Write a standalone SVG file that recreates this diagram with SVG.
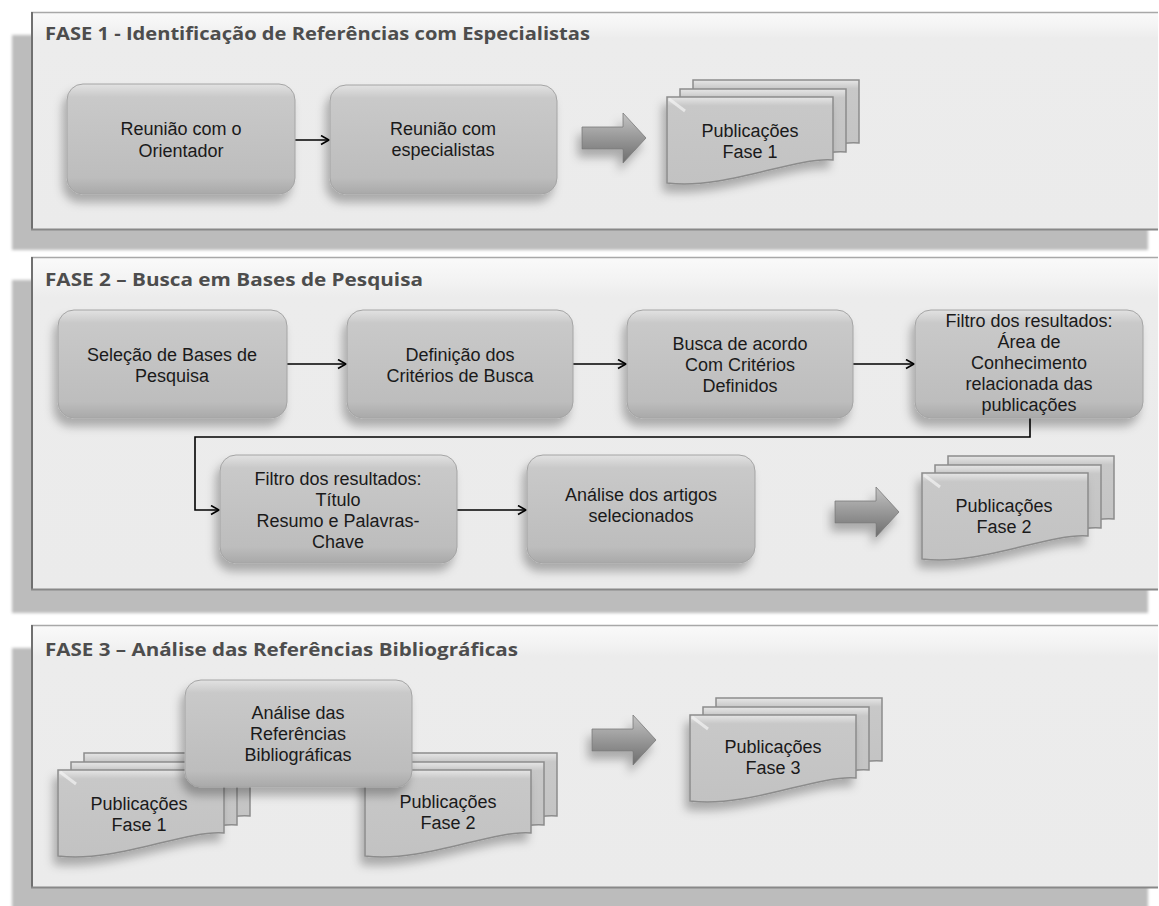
<svg xmlns="http://www.w3.org/2000/svg" width="1159" height="906" viewBox="0 0 1159 906">
  <defs>
    <style>
      .hdr { font-family: "Open Sans", "Liberation Sans", sans-serif; font-weight: bold; font-size: 18.5px; fill: #4d4d4d; }
      .lbl { font-family: "Liberation Sans", Arial, sans-serif; font-size: 18px; fill: #1a1a1a; text-anchor: middle; }
      .slab { fill: #bcbcbc; }
      .panel { fill: url(#panelFill); }
      .box { fill: url(#boxFill); stroke: #a4a4a4; stroke-width: 1; filter: url(#shadow); }
      .doc { fill: url(#docFill); stroke: #8c8c8c; stroke-width: 1.5; }
      .docfront { filter: url(#shadow); }
      .barrow { fill: url(#arrowFill); stroke: #7a7a7a; stroke-width: 0.8; filter: url(#shadow); }
      .conn { fill: none; stroke: #000; stroke-width: 1.6; marker-end: url(#open); }
    </style>
    <linearGradient id="panelFill" x1="0" y1="0" x2="0" y2="1">
      <stop offset="0" stop-color="#fafafa"/>
      <stop offset="0.07" stop-color="#f3f3f3"/>
      <stop offset="0.12" stop-color="#ececec"/>
      <stop offset="1" stop-color="#ebebeb"/>
    </linearGradient>
    <linearGradient id="boxFill" x1="0" y1="0" x2="0" y2="1">
      <stop offset="0" stop-color="#e2e2e2"/>
      <stop offset="0.12" stop-color="#c9c9c9"/>
      <stop offset="0.85" stop-color="#bdbdbd"/>
      <stop offset="1" stop-color="#a9a9a9"/>
    </linearGradient>
    <linearGradient id="docFill" x1="0" y1="0" x2="0" y2="1">
      <stop offset="0" stop-color="#e6e6e6"/>
      <stop offset="0.1" stop-color="#c8c8c8"/>
      <stop offset="1" stop-color="#c2c2c2"/>
    </linearGradient>
    <linearGradient id="arrowFill" x1="0" y1="0" x2="0" y2="1">
      <stop offset="0" stop-color="#c4c4c4"/>
      <stop offset="0.45" stop-color="#9c9c9c"/>
      <stop offset="1" stop-color="#6e6e6e"/>
    </linearGradient>
    <filter id="shadow" x="-20%" y="-20%" width="140%" height="150%">
      <feDropShadow dx="-4" dy="8" stdDeviation="5" flood-color="#000" flood-opacity="0.28"/>
    </filter>
    <filter id="soft" x="-5%" y="-10%" width="110%" height="120%">
      <feGaussianBlur stdDeviation="1.5"/>
    </filter>
    <marker id="open" markerWidth="12" markerHeight="12" refX="9" refY="5" orient="auto" markerUnits="userSpaceOnUse">
      <path d="M1,0.5 L9,5 L1,9.5" fill="none" stroke="#000" stroke-width="1.6"/>
    </marker>
    <!-- document sheet with wavy bottom, origin at top-left -->
    <path id="docShape" d="M0,0 H166 V63 C125,60 60,93 0,86 Z"/>
    <!-- three stacked sheets, front one at origin -->
    <g id="docStack">
      <use href="#docShape" class="doc" transform="translate(26,-17)"/>
      <use href="#docShape" class="doc" transform="translate(13,-8)"/>
      <use href="#docShape" class="doc docfront"/>
      <path d="M2,2 L18,14" stroke="#f4f4f4" stroke-width="3" opacity="0.7"/>
    </g>
    <!-- thick block arrow, origin at tail centre -->
    <path id="blockArrow" d="M0,-11 H41 V-25 L64,0 L41,25 V11 H0 Z"/>
  </defs>

  <!-- FASE 1 panel -->
  <g id="fase1">
    <rect class="slab" x="12" y="35" width="1136" height="215" filter="url(#soft)"/>
    <rect class="panel" x="31" y="12" width="1127" height="218"/>
    <line x1="31" y1="12.5" x2="1158" y2="12.5" stroke="#a8a8a8" stroke-width="1.5"/>
    <line x1="32" y1="12" x2="32" y2="230" stroke="#707070" stroke-width="2"/>
    <line x1="31" y1="229.5" x2="1158" y2="229.5" stroke="#888" stroke-width="2"/>
    <text class="hdr" x="45" y="40" textLength="545" lengthAdjust="spacingAndGlyphs">FASE 1 - Identificação de Referências com Especialistas</text>
  </g>

  <!-- FASE 2 panel -->
  <g id="fase2">
    <rect class="slab" x="12" y="280" width="1136" height="333" filter="url(#soft)"/>
    <rect class="panel" x="31" y="257" width="1127" height="333"/>
    <line x1="31" y1="257.5" x2="1158" y2="257.5" stroke="#a8a8a8" stroke-width="1.5"/>
    <line x1="32" y1="257" x2="32" y2="590" stroke="#707070" stroke-width="2"/>
    <line x1="31" y1="589.5" x2="1158" y2="589.5" stroke="#888" stroke-width="2"/>
    <text class="hdr" x="45" y="286" textLength="378" lengthAdjust="spacingAndGlyphs">FASE 2 – Busca em Bases de Pesquisa</text>
  </g>

  <!-- FASE 3 panel -->
  <g id="fase3">
    <rect class="slab" x="12" y="648" width="1136" height="270" filter="url(#soft)"/>
    <rect class="panel" x="31" y="625" width="1127" height="263"/>
    <line x1="31" y1="625.5" x2="1158" y2="625.5" stroke="#a8a8a8" stroke-width="1.5"/>
    <line x1="32" y1="625" x2="32" y2="888" stroke="#707070" stroke-width="2"/>
    <line x1="31" y1="887.5" x2="1158" y2="887.5" stroke="#888" stroke-width="2"/>
    <text class="hdr" x="45" y="656" textLength="473" lengthAdjust="spacingAndGlyphs">FASE 3 – Análise das Referências Bibliográficas</text>
  </g>

  <!-- connectors -->
  <g id="connectors">
    <line class="conn" x1="295" y1="140" x2="329" y2="140"/>
    <line class="conn" x1="287" y1="364" x2="346" y2="364"/>
    <line class="conn" x1="573" y1="364" x2="626" y2="364"/>
    <line class="conn" x1="853" y1="364" x2="914" y2="364"/>
    <polyline class="conn" points="1030,418 1030,437 195,437 195,510 219,510"/>
    <line class="conn" x1="457" y1="510" x2="526" y2="510"/>
  </g>

  <!-- FASE 1 nodes -->
  <g id="reuniao-orientador">
    <rect class="box" x="67" y="84" width="228" height="110" rx="16"/>
    <text class="lbl"><tspan x="181" y="135">Reunião com o</tspan><tspan x="181" y="157">Orientador</tspan></text>
  </g>
  <g id="reuniao-especialistas">
    <rect class="box" x="330" y="85" width="227" height="109" rx="16"/>
    <text class="lbl"><tspan x="443" y="135">Reunião com</tspan><tspan x="443" y="156">especialistas</tspan></text>
  </g>
  <g id="seta-fase1">
    <use href="#blockArrow" class="barrow" transform="translate(582,138)"/>
  </g>
  <g id="publicacoes-fase1">
    <use href="#docStack" transform="translate(667,97)"/>
    <text class="lbl"><tspan x="750" y="137">Publicações</tspan><tspan x="750" y="158">Fase 1</tspan></text>
  </g>

  <!-- FASE 2 nodes -->
  <g id="selecao-bases">
    <rect class="box" x="58" y="310" width="229" height="108" rx="16"/>
    <text class="lbl"><tspan x="172" y="361">Seleção de Bases de</tspan><tspan x="172" y="382">Pesquisa</tspan></text>
  </g>
  <g id="definicao-criterios">
    <rect class="box" x="347" y="310" width="226" height="108" rx="16"/>
    <text class="lbl"><tspan x="460" y="361">Definição dos</tspan><tspan x="460" y="382">Critérios de Busca</tspan></text>
  </g>
  <g id="busca-criterios">
    <rect class="box" x="627" y="310" width="226" height="108" rx="16"/>
    <text class="lbl"><tspan x="740" y="350">Busca de acordo</tspan><tspan x="740" y="371">Com Critérios</tspan><tspan x="740" y="392">Definidos</tspan></text>
  </g>
  <g id="filtro-area">
    <rect class="box" x="915" y="310" width="228" height="108" rx="16"/>
    <text class="lbl"><tspan x="1029" y="327">Filtro dos resultados:</tspan><tspan x="1029" y="348">Área de</tspan><tspan x="1029" y="369">Conhecimento</tspan><tspan x="1029" y="390">relacionada das</tspan><tspan x="1029" y="411">publicações</tspan></text>
  </g>
  <g id="filtro-titulo">
    <rect class="box" x="220" y="455" width="237" height="108" rx="16"/>
    <text class="lbl"><tspan x="338" y="485">Filtro dos resultados:</tspan><tspan x="338" y="506">Título</tspan><tspan x="338" y="527">Resumo e Palavras-</tspan><tspan x="338" y="548">Chave</tspan></text>
  </g>
  <g id="analise-artigos">
    <rect class="box" x="527" y="455" width="228" height="108" rx="16"/>
    <text class="lbl"><tspan x="641" y="501">Análise dos artigos</tspan><tspan x="641" y="522">selecionados</tspan></text>
  </g>
  <g id="seta-fase2">
    <use href="#blockArrow" class="barrow" transform="translate(835,512)"/>
  </g>
  <g id="publicacoes-fase2">
    <use href="#docStack" transform="translate(922,473)"/>
    <text class="lbl"><tspan x="1004" y="512">Publicações</tspan><tspan x="1004" y="533">Fase 2</tspan></text>
  </g>

  <!-- FASE 3 nodes -->
  <g id="fase3-entrada1">
    <use href="#docStack" transform="translate(58,770)"/>
    <text class="lbl"><tspan x="139" y="810">Publicações</tspan><tspan x="139" y="831">Fase 1</tspan></text>
  </g>
  <g id="fase3-entrada2">
    <use href="#docStack" transform="translate(365,770)"/>
    <text class="lbl"><tspan x="448" y="808">Publicações</tspan><tspan x="448" y="829">Fase 2</tspan></text>
  </g>
  <g id="analise-referencias">
    <rect class="box" x="185" y="680" width="227" height="107" rx="16"/>
    <text class="lbl"><tspan x="298" y="719">Análise das</tspan><tspan x="298" y="740">Referências</tspan><tspan x="298" y="761">Bibliográficas</tspan></text>
  </g>
  <g id="seta-fase3">
    <use href="#blockArrow" class="barrow" transform="translate(592,740)"/>
  </g>
  <g id="publicacoes-fase3">
    <use href="#docStack" transform="translate(690,715)"/>
    <text class="lbl"><tspan x="773" y="753">Publicações</tspan><tspan x="773" y="774">Fase 3</tspan></text>
  </g>
</svg>
